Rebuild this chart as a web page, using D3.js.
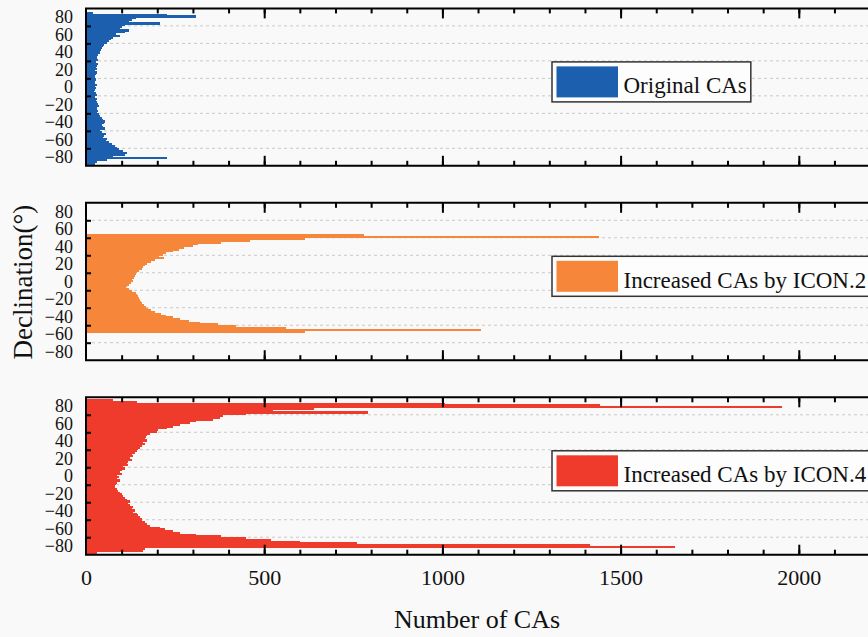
<!DOCTYPE html>
<html>
<head>
<meta charset="utf-8">
<script src="https://cdn.jsdelivr.net/npm/d3@7"></script>
<style>
  body { margin: 0; background: #f9f9f9; }
  svg { display: block; }
  text { font-family: "Liberation Serif", "Times New Roman", serif; fill: #111; }
</style>
</head>
<body>
<div id="chart"></div>
<script>
// declination bins (2 degrees wide), listed from north to south
var declination = d3.range(89, -90, -2);

// number of CAs per bin, same order as declination
var originalCAs = [0, 0, 20, 228, 310, 140, 130, 120, 208, 110,
    100, 95, 120, 110, 85, 95, 75, 70, 65, 60,
    50, 48, 45, 42, 40, 38, 35, 32, 30, 33,
    28, 35, 30, 27, 32, 26, 30, 27, 24, 26,
    28, 24, 26, 30, 24, 28, 26, 23, 28, 32,
    26, 30, 28, 32, 34, 36, 32, 30, 35, 32,
    36, 40, 44, 48, 52, 50, 44, 48, 52, 40,
    45, 56, 50, 48, 60, 56, 65, 72, 80, 86,
    92, 105, 115, 110, 75, 228, 60, 30, 25, 0];

var icon2CAs = [0, 0, 0, 0, 0, 0, 0, 0, 0, 0,
    0, 0, 0, 0, 0, 0, 0, 0, 780, 1440,
    615, 460, 380, 315, 300, 275, 262, 245, 225, 215,
    205, 218, 195, 182, 172, 165, 160, 156, 150, 144,
    140, 137, 134, 130, 132, 126, 120, 114, 112, 122,
    130, 140, 144, 147, 150, 152, 155, 158, 162, 168,
    175, 182, 195, 210, 225, 245, 265, 290, 320, 370,
    420, 560, 1108, 615, 0, 0, 0, 0, 0, 0,
    0, 0, 0, 0, 0, 0, 0, 0, 0, 0];

var icon4CAs = [0, 77, 142, 1008, 1442, 1953, 640, 525, 791, 450,
    385, 376, 357, 310, 292, 264, 245, 226, 203, 198,
    180, 170, 168, 166, 170, 160, 166, 156, 152, 147,
    142, 138, 128, 133, 123, 128, 118, 114, 118, 104,
    109, 100, 95, 100, 88, 93, 86, 95, 88, 84,
    81, 82, 86, 90, 95, 100, 104, 109, 114, 123,
    118, 123, 131, 128, 138, 133, 142, 147, 152, 156,
    156, 166, 170, 180, 208, 222, 245, 265, 310, 380,
    450, 520, 600, 760, 1414, 1654, 166, 160, 30, 0];

var seriesNames = ["Original CAs", "Increased CAs by ICON.2", "Increased CAs by ICON.4"];
var seriesColors = ["#1c5fae", "#f6873a", "#ef3b2c"];

var yTickLabels = [80, 60, 40, 20, 0, -20, -40, -60, -80];
var yGridValues = [70, 50, 30, 10, -10, -30, -50, -70];
var xTickLabels = [0, 500, 1000, 1500, 2000];
var xMinorTicks = d3.range(100, 2301, 100);

var width = 868, height = 637;
var left = 86;
var panelTops = [8.4, 202.8, 397.3];
var panelH = 157.4;

var svg = d3.select("#chart").append("svg")
    .attr("width", width)
    .attr("height", height);

svg.append("rect")
    .attr("width", width).attr("height", height)
    .attr("fill", "#f9f9f9");

// 500 CAs is about 178 px in the original
var x = d3.scaleLinear()
    .domain([0, 2300])
    .range([left, left + 2300 * 0.3564]);

var allSeries = [originalCAs, icon2CAs, icon4CAs];

allSeries.forEach(function (series, p) {
    var top = panelTops[p];
    var y = d3.scaleLinear()
        .domain([90, -90])
        .range([top, top + panelH]);

    var g = svg.append("g");

    // dashed grid lines
    g.selectAll(".grid")
        .data(yGridValues)
        .enter().append("line")
        .attr("x1", left).attr("x2", width)
        .attr("y1", function (d) { return y(d); })
        .attr("y2", function (d) { return y(d); })
        .attr("stroke", "#c9c9c9")
        .attr("stroke-width", 1)
        .attr("stroke-dasharray", "3,3");

    var rows = declination.map(function (d, i) {
        return { dec: d, value: series[i] };
    }).filter(function (d) { return d.value > 0; });

    g.selectAll(".bar")
        .data(rows)
        .enter().append("rect")
        .attr("x", x(0))
        .attr("y", function (d) { return y(d.dec + 1); })
        .attr("width", function (d) { return x(d.value) - x(0); })
        .attr("height", function (d) { return y(d.dec - 1) - y(d.dec + 1) + 0.6; })
        .attr("shape-rendering", "crispEdges")
        .attr("fill", seriesColors[p]);

    // inward ticks on the left side
    g.append("g")
        .attr("transform", "translate(" + left + ",0)")
        .call(d3.axisRight(y).tickValues(yGridValues).tickSize(5).tickFormat(""))
        .call(function (a) { a.select(".domain").remove(); })
        .selectAll("line").attr("stroke", "#000").attr("stroke-width", 2);

    // declination labels
    g.append("g")
        .attr("transform", "translate(" + left + ",0)")
        .call(d3.axisLeft(y).tickValues(yTickLabels).tickSize(0).tickPadding(13))
        .call(function (a) { a.select(".domain").remove(); })
        .selectAll("text")
        .style("font-size", "18px")
        .style("font-family", "'Liberation Serif', serif")
        .attr("fill", "#111");

    // ticks on top and bottom frame, minor then major
    [[5, xMinorTicks], [10, xTickLabels.slice(1)]].forEach(function (t) {
        g.append("g")
            .attr("transform", "translate(0," + top + ")")
            .call(d3.axisBottom(x).tickValues(t[1]).tickSize(t[0]).tickFormat(""))
            .call(function (a) { a.select(".domain").remove(); })
            .selectAll("line").attr("stroke", "#000").attr("stroke-width", 2);
        g.append("g")
            .attr("transform", "translate(0," + (top + panelH) + ")")
            .call(d3.axisTop(x).tickValues(t[1]).tickSize(t[0]).tickFormat(""))
            .call(function (a) { a.select(".domain").remove(); })
            .selectAll("line").attr("stroke", "#000").attr("stroke-width", 2);
    });

    // frame (right side is outside the picture)
    g.append("path")
        .attr("d", "M" + (width + 10) + "," + top + "H" + left + "V" + (top + panelH) + "H" + (width + 10))
        .attr("fill", "none")
        .attr("stroke", "#000")
        .attr("stroke-width", 2);

    // legend
    var lg = g.append("g").attr("transform", "translate(552," + (top + 53.5) + ")");
    var label = lg.append("text")
        .attr("x", 71.5)
        .attr("y", 31.5)
        .style("font-size", "23px")
        .text(seriesNames[p]);
    var tw = label.node().getComputedTextLength();
    lg.insert("rect", "text")
        .attr("x", 0).attr("y", 0)
        .attr("width", p === 0 ? 71.5 + tw + 4 : 330)
        .attr("height", 40)
        .attr("fill", "#fdfdfd")
        .attr("stroke", "#333")
        .attr("stroke-width", 1.5);
    lg.insert("rect", "text")
        .attr("x", 4.5).attr("y", 4.5)
        .attr("width", 61.5).attr("height", 31)
        .attr("fill", seriesColors[p]);

    if (p === 2) {
        g.append("g")
            .attr("transform", "translate(0," + (top + panelH) + ")")
            .call(d3.axisBottom(x).tickValues(xTickLabels).tickSize(0).tickPadding(15).tickFormat(d3.format("d")))
            .call(function (a) { a.select(".domain").remove(); })
            .selectAll("text")
            .style("font-size", "22px")
            .style("font-family", "'Liberation Serif', serif")
            .attr("fill", "#111");
    }
});

// axis titles
svg.append("text")
    .attr("x", 477)
    .attr("y", 628)
    .attr("text-anchor", "middle")
    .style("font-size", "26px")
    .text("Number of CAs");

svg.append("text")
    .attr("transform", "translate(32,282) rotate(-90)")
    .attr("text-anchor", "middle")
    .style("font-size", "27px")
    .text("Declination(°)");
</script>
</body>
</html>
